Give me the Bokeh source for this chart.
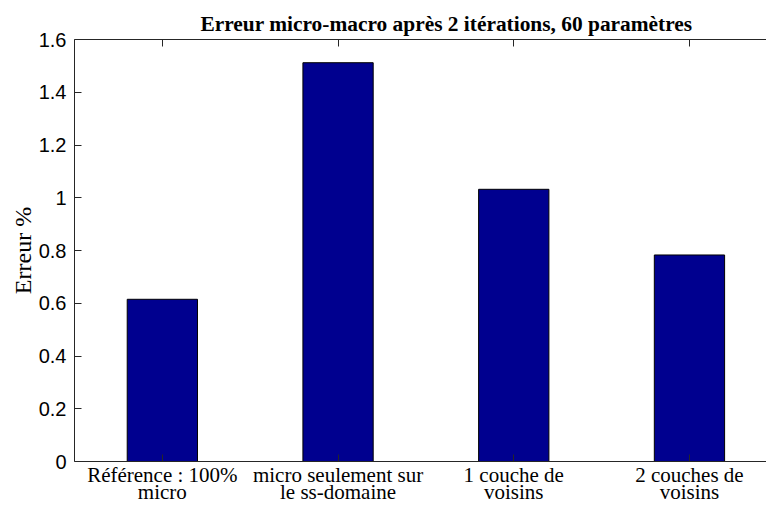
from bokeh.plotting import figure
from bokeh.models import Range1d, FixedTicker, LinearAxis, Title
from bokeh.embed import file_html
from bokeh.resources import INLINE

# ---- data ----
categories_line1 = ["Référence : 100%", "micro seulement sur", "1 couche de", "2 couches de"]
categories_line2 = ["micro", "le ss-domaine", "voisins", "voisins"]
errors = [0.615, 1.512, 1.032, 0.783]
y_ticks = [0, 0.2, 0.4, 0.6, 0.8, 1, 1.2, 1.4, 1.6]
y_tick_labels = ["0", "0.2", "0.4", "0.6", "0.8", "1", "1.2", "1.4", "1.6"]
title_text = "Erreur micro-macro après 2 itérations, 60 paramètres"
y_label = "Erreur %"

x_pos = list(range(1, len(categories_line1) + 1))

AX = "#262626"
SERIF = "Liberation Serif"
SANS = "Liberation Sans"

p = figure(width=766, height=506, output_backend="svg", toolbar_location=None,
           x_range=Range1d(0.5, 4.4385), y_range=Range1d(0, 1.6),
           x_axis_type=None, y_axis_type=None,
           min_border_left=74, min_border_right=0, min_border_top=39,
           min_border_bottom=45)
p.outline_line_color = None
p.grid.visible = False
p.background_fill_color = "white"
p.border_fill_color = "white"

p.vbar(x=x_pos, top=errors, width=0.4, bottom=0,
       fill_color="#00008F", line_color="black", line_width=1)


def style_ticks(ax):
    ax.major_tick_in = 7
    ax.major_tick_out = 0
    ax.minor_tick_in = 0
    ax.minor_tick_out = 0
    ax.axis_line_color = AX
    ax.major_tick_line_color = AX


# bottom axis, first line of the category labels
xb = LinearAxis(ticker=FixedTicker(ticks=x_pos),
                major_label_overrides={x: c for x, c in zip(x_pos, categories_line1)})
xb.major_label_text_font = SERIF
xb.major_label_text_font_size = "21px"
xb.major_label_text_color = "black"
xb.major_label_standoff = 1
style_ticks(xb)
p.add_layout(xb, "below")

# second line of the category labels
xb2 = LinearAxis(ticker=FixedTicker(ticks=x_pos),
                 major_label_overrides={x: c for x, c in zip(x_pos, categories_line2)})
xb2.major_label_text_font = SERIF
xb2.major_label_text_font_size = "21px"
xb2.major_label_text_color = "black"
xb2.major_label_standoff = -10
xb2.axis_line_color = None
xb2.major_tick_line_color = None
xb2.minor_tick_line_color = None
xb2.major_tick_in = 0
xb2.major_tick_out = 0
xb2.minor_tick_in = 0
xb2.minor_tick_out = 0
p.add_layout(xb2, "below")

# top axis (box line with ticks, no labels)
xt = LinearAxis(ticker=FixedTicker(ticks=x_pos),
                major_label_overrides={x: "" for x in x_pos})
xt.major_label_standoff = 0
style_ticks(xt)
p.add_layout(xt, "above")

# left axis
yl = LinearAxis(ticker=FixedTicker(ticks=y_ticks),
                major_label_overrides={t: s for t, s in zip(y_ticks, y_tick_labels)})
yl.axis_label = y_label
yl.axis_label_text_font = SERIF
yl.axis_label_text_font_size = "24px"
yl.axis_label_text_font_style = "normal"
yl.axis_label_text_color = "black"
yl.axis_label_standoff = 0
yl.major_label_text_font = SANS
yl.major_label_text_font_size = "20px"
yl.major_label_text_color = "black"
yl.major_label_standoff = 8
style_ticks(yl)
p.add_layout(yl, "left")

p.title = Title(text=title_text, align="left", offset=126,
                text_font=SERIF, text_font_size="21.4px", text_font_style="bold",
                text_color="black", standoff=8)

html = file_html(p, INLINE)
open("out.html", "w").write(html)
